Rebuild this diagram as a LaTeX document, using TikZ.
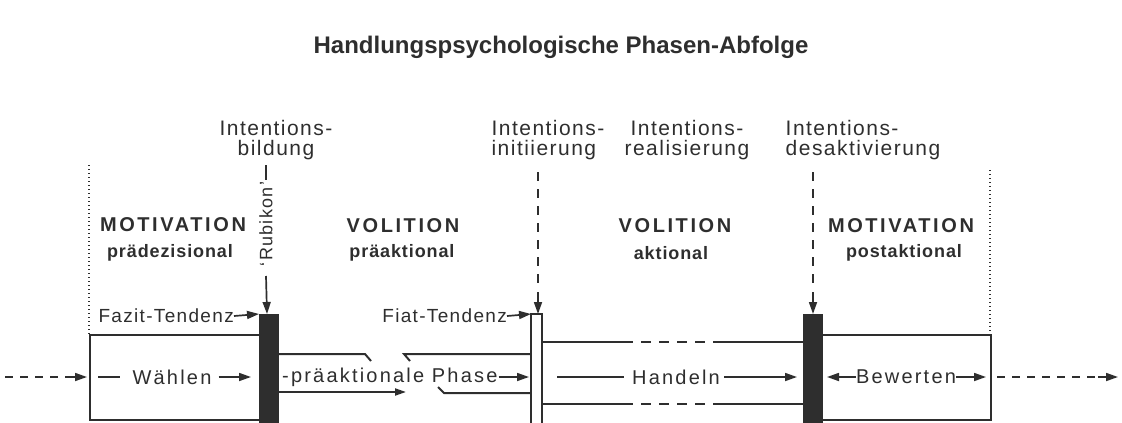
\documentclass[tikz,border=0pt]{standalone}
\usepackage{fontspec}
\setmainfont{Liberation Sans}
\newfontfamily\titlef{Liberation Sans}
\newfontfamily\lblf[LetterSpace=7]{Liberation Sans}
\newfontfamily\midf[LetterSpace=11]{Liberation Sans}
\newfontfamily\capf[LetterSpace=13]{Liberation Sans}
\newfontfamily\subf[LetterSpace=5]{Liberation Sans}
\usetikzlibrary{arrows.meta}
\definecolor{ink}{HTML}{2E2E2E}
\tikzset{
  inkline/.style={draw=ink, line width=2pt},
  arr/.style={-{Triangle[length=12pt,width=8pt]}, draw=ink, line width=1.7pt},
  larr/.style={{Triangle[length=12pt,width=8pt]}-, draw=ink, line width=1.7pt},
  vdash/.style={draw=ink, line width=2pt, dash pattern=on 9pt off 8pt},
  hdash/.style={draw=ink, line width=1.7pt, dash pattern=on 8pt off 7pt},
  cdash/.style={draw=ink, line width=2pt, dash pattern=on 10pt off 8pt},
  dots/.style={draw=ink, line width=1.2pt, dash pattern=on 1.2pt off 2.8pt},
  titletxt/.style={text=ink, inner sep=0pt, font=\titlef\bfseries\fontsize{24}{28}\selectfont},
  lbl/.style={text=ink, inner sep=0pt, font=\lblf\fontsize{21}{20}\selectfont},
  mid/.style={text=ink, inner sep=0pt, font=\midf\fontsize{20}{22}\selectfont},
  tend/.style={text=ink, inner sep=0pt, font=\lblf\fontsize{19}{20}\selectfont},
  caps/.style={text=ink, inner sep=0pt, font=\capf\bfseries\fontsize{20}{22}\selectfont},
  sub/.style={text=ink, inner sep=0pt, font=\subf\bfseries\fontsize{18}{20}\selectfont},
  rubi/.style={text=ink, inner sep=0pt, rotate=90, font=\lblf\fontsize{18}{20}\selectfont},
}
\begin{document}
\begin{tikzpicture}[x=1pt,y=-1pt]
\useasboundingbox (0,0) rectangle (1122,423);

% title
\node[titletxt] (title) at (561,47) {Handlungspsychologische Phasen-Abfolge};

% phase transition labels
\node[lbl, align=center] (ib) at (276,140) {Intentions-\\bildung};
\node[lbl, align=left] (ii) at (548,140) {Intentions-\\initiierung};
\node[lbl, align=center] (ir) at (687,140) {Intentions-\\realisierung};
\node[lbl, align=left] (id) at (863,140) {Intentions-\\desaktivierung};

% phase names
\node[caps] (m1) at (173,225) {MOTIVATION};
\node[sub]  (m1s) at (170,253) {prädezisional};
\node[caps] (v1) at (403,226) {VOLITION};
\node[sub]  (v1s) at (402,253) {präaktional};
\node[caps] (v2) at (675,226) {VOLITION};
\node[sub]  (v2s) at (671,253) {aktional};
\node[caps] (m2) at (901,226) {MOTIVATION};
\node[sub]  (m2s) at (904,253) {postaktional};

% dotted phase limits
\coordinate (dl1) at (89,165);
\coordinate (dl2) at (89,335);
\coordinate (dr1) at (990,170);
\coordinate (dr2) at (990,335);
\draw[dots] (dl1) -- (dl2);
\draw[dots] (dr1) -- (dr2);

% bars
\coordinate (b1nw) at (259,314);
\coordinate (b1se) at (279,425);
\coordinate (b1n) at (267,314);
\coordinate (wbnw) at (531,314);
\coordinate (wbse) at (542,426);
\coordinate (wbn) at (538,314);
\coordinate (b2nw) at (803,314);
\coordinate (b2se) at (823,425);
\coordinate (b2n) at (813,314);
\fill[ink] (b1nw) rectangle (b1se);
\draw[draw=ink, line width=2pt] (wbnw) rectangle (wbse);
\fill[ink] (b2nw) rectangle (b2se);

% boxes
\draw[inkline] (259,335) -- (90,335) -- (90,420) -- (259,420);
\draw[inkline] (823,335) -- (991,335) -- (991,420) -- (823,420);

% preaction channel
\draw[inkline] (279,354) -- (365,354) -- (371,361);
\draw[inkline] (410,361) -- (404,354) -- (531,354);
\draw[draw=ink, line width=2pt, -{Triangle[length=11pt,width=7pt]}] (279,392) -- (406,392);
\draw[inkline] (438,387) -- (444,393) -- (531,393);

% action channel
\draw[inkline] (542,342) -- (633,342);
\draw[cdash] (641,342) -- (722,342);
\draw[inkline] (722,342) -- (803,342);
\draw[inkline] (542,404) -- (633,404);
\draw[cdash] (641,404) -- (715,404);
\draw[inkline] (715,404) -- (803,404);

% tendencies
\node[tend, anchor=east] (fazit) at (234,316) {Fazit-Tendenz};
\node[tend, anchor=east] (fiat) at (507,316) {Fiat-Tendenz};
\draw[arr] (fazit.east) -- (b1nw);
\draw[arr] (fiat.east) -- (wbnw);

% vertical transition lines
\draw[inkline] (266,165) -- (266,180);
\node[rubi] (rub) at (266,224) {‘Rubikon’};
\draw[arr] (266,276) -- (b1n);
\draw[vdash] (538,172) -- (538,290);
\draw[arr] (538,292) -- (wbn);
\draw[vdash] (813,172) -- (813,290);
\draw[arr] (813,292) -- (b2n);

% main row
\coordinate (in0) at (5,377);
\coordinate (in1) at (87,377);
\draw[hdash] (in0) -- (72,377);
\draw[arr] (72,377) -- (in1);
\node[mid] (wah) at (172,377) {Wählen};
\draw[draw=ink, line width=1.7pt] (98,377) -- (120,377);
\draw[arr] (wah.east) ++(7,0) -- (251,377);
\node[mid, anchor=west] (pa) at (282,377) {-präaktionale Phase};
\draw[arr] (pa.east) ++(1,0) -- (529,377);
\node[mid] (hand) at (676,377) {Handeln};
\draw[draw=ink, line width=1.7pt] (557,377) -- (624,377);
\draw[arr] (hand.east) ++(4,0) -- (797,377);
\node[mid] (bew) at (906,377) {Bewerten};
\draw[larr] (827,377) -- (bew.west);
\draw[arr] (bew.east) -- (986,377);
\draw[hdash] (997,377) -- (1098,377);
\draw[arr] (1098,377) -- (1118,377);
\end{tikzpicture}
\end{document}
